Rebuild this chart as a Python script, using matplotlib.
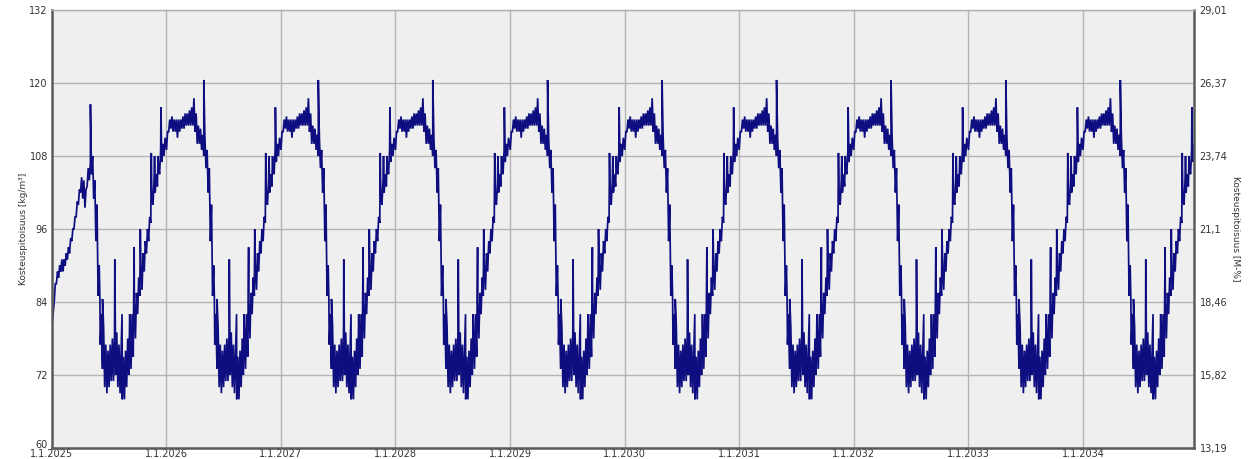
import matplotlib
matplotlib.use("Agg")
import matplotlib.pyplot as plt
import matplotlib.dates as mdates
import matplotlib.transforms as mtransforms
from matplotlib.ticker import FixedLocator
from datetime import datetime, timedelta

# ---------------- data ----------------
years = list(range(2025, 2035))
year_labels = [f"1.1.{y}" for y in years]

# first year (2025) weekly band, weeks 0..19 (start-up phase)
first_low = [80, 84, 87, 88, 89, 89, 90, 91, 92, 94, 96, 98, 100, 102,
             101, 99.5, 103, 104, 105, 101]
first_high = [82, 87, 89, 90, 91, 91, 92, 93, 94.5, 96, 98, 100.5, 102.5,
              104.5, 104, 102.5, 106, 107, 108, 104]
first_spike_weeks = [17.5]
first_spike_values = [116.5]

# typical yearly cycle: weekly low / high of the noisy band, weeks 0..51
cycle_low = [109, 112, 112.5, 112, 112, 111, 112, 112.5, 112.5, 113, 113, 113,
             113, 112, 110, 110, 109, 108, 106, 102, 94, 85, 77, 73, 70, 69,
             70, 71, 71, 72, 70, 69, 68, 68, 70, 72, 73, 75, 78, 82, 85, 86,
             89, 92, 94, 97, 100, 102, 103, 105, 107, 108]
cycle_high = [112, 114, 114.5, 114, 114, 114, 114, 114.5, 115, 115, 115.5, 116,
              117.5, 115, 113, 112.5, 111.5, 111, 109, 106, 100, 90, 82, 80, 77,
              76, 77, 78, 79, 79, 77, 76, 75, 76, 78, 80, 82, 84, 85.5, 88, 90,
              92, 94, 96, 98, 101, 104, 105, 106, 109, 110, 111]
spike_weeks = [17.0, 21.8, 23.0, 28.6, 31.9, 35.4, 37.4, 40.2, 45.2, 46.7, 48.3, 49.6]
spike_values = [120.5, 84.5, 84.5, 91, 82, 82, 93, 96, 108.5, 108, 108, 116]

left_ticks = [60, 72, 84, 96, 108, 120, 132]
right_tick_labels = ["13,19", "15,82", "18,46", "21,1", "23,74", "26,37", "29,01"]
left_label = "Kosteuspitoisuus [kg/m³]"
right_label = "Kosteuspitoisuus [M-%]"

# ---------------- build series ----------------
pts = []
for y in years:
    start = datetime(y, 1, 1)
    for w in range(52):
        if y == years[0] and w < len(first_low):
            lo, hi = first_low[w], first_high[w]
        else:
            lo, hi = cycle_low[w], cycle_high[w]
        pts.append((start + timedelta(weeks=w), lo))
        pts.append((start + timedelta(weeks=w + 0.5), hi))
    if y == years[0]:
        for sw, sv in zip(first_spike_weeks, first_spike_values):
            pts.append((start + timedelta(weeks=sw + 0.01), sv))
        for sw, sv in zip(spike_weeks, spike_values):
            if sw >= len(first_low):
                pts.append((start + timedelta(weeks=sw + 0.01), sv))
    else:
        for sw, sv in zip(spike_weeks, spike_values):
            pts.append((start + timedelta(weeks=sw + 0.01), sv))
pts.sort(key=lambda p: p[0])
xs = [p[0] for p in pts]
ys = [p[1] for p in pts]

# ---------------- figure ----------------
fig = plt.figure(figsize=(12.48, 4.59), dpi=100, facecolor="white")
ax = fig.add_axes([52 / 1248, 1 - 448 / 459, (1194 - 52) / 1248, (448 - 10) / 459])
ax.set_facecolor("#efefef")

ax.plot(xs, ys, color="#0e0e80", lw=1.25, solid_joinstyle="miter")

ax.set_ylim(60, 132)
ax.set_xlim(datetime(2025, 1, 1), datetime(2034, 12, 21))

ax.yaxis.set_major_locator(FixedLocator(left_ticks))
ax.set_yticklabels([str(t) for t in left_ticks])
xt = [mdates.date2num(datetime(y, 1, 1)) for y in years]
ax.xaxis.set_major_locator(FixedLocator(xt))
ax.set_xticklabels(year_labels)

ax.grid(True, color="#b4b4b4", lw=1.0)
ax.set_axisbelow(True)
ax.tick_params(axis="both", length=0, labelsize=7, colors="#333333", pad=1)
ax.tick_params(axis="y", pad=3)

# lift the bottom "60" label slightly so it sits above the first date label
fig.canvas.draw()
ylabels = ax.get_yticklabels()
ylabels[0].set_transform(ylabels[0].get_transform() +
                         mtransforms.ScaledTranslation(0, 4 / 100, fig.dpi_scale_trans))

for s in ["left", "bottom"]:
    ax.spines[s].set_color("#5a5a5a")
    ax.spines[s].set_linewidth(1.8)
ax.spines["top"].set_color("#b0b0b0")
ax.spines["top"].set_linewidth(1.0)
ax.spines["right"].set_color("#5a5a5a")
ax.spines["right"].set_linewidth(1.8)

ax.set_ylabel(left_label, fontsize=6.5, color="#333333", labelpad=1)

ax2 = ax.twinx()
ax2.set_ylim(60, 132)
ax2.yaxis.set_major_locator(FixedLocator(left_ticks))
ax2.set_yticklabels(right_tick_labels)
ax2.tick_params(axis="y", length=0, labelsize=7, colors="#333333", pad=4)
for s in ax2.spines.values():
    s.set_visible(False)
ax2.set_ylabel(right_label, fontsize=6.5, color="#333333", rotation=-90, labelpad=9)

fig.savefig("out.png", dpi=100, facecolor="white")
